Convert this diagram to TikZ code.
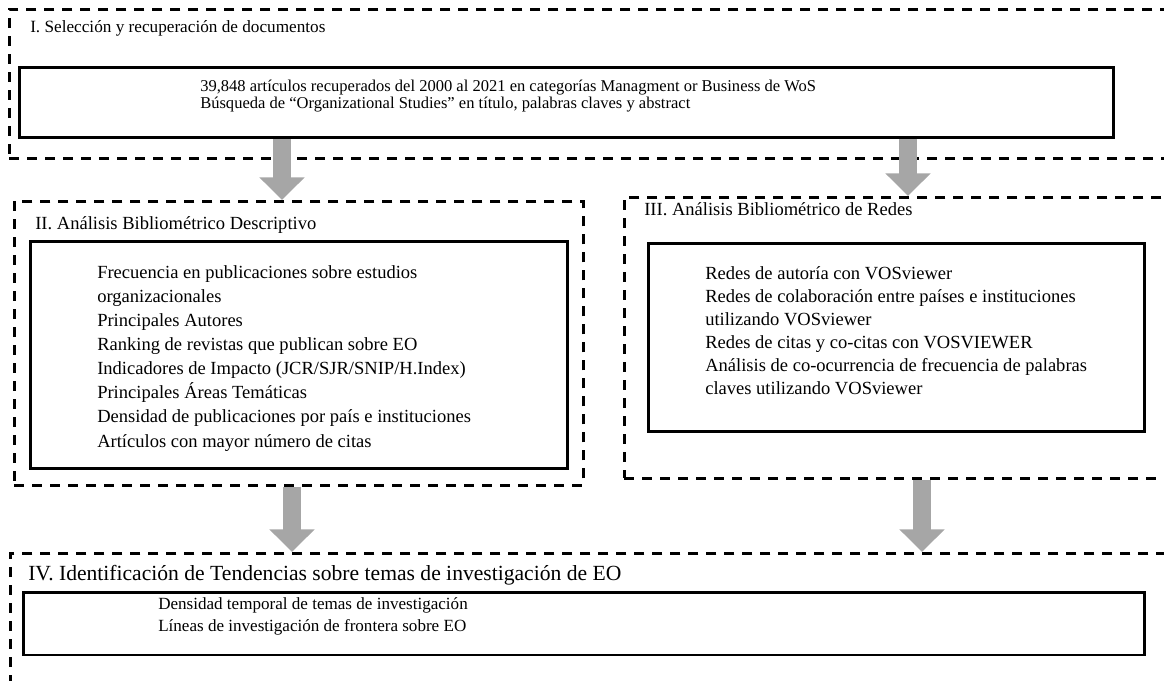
\documentclass[tikz,border=0pt]{standalone}
\usepackage{fontspec}
\setmainfont{Liberation Serif}
\usetikzlibrary{arrows.meta}
\usetikzlibrary{positioning}
\definecolor{arrowgray}{HTML}{A6A6A6}

\begin{document}
\begin{tikzpicture}[
  x=0.75pt, y=-0.75pt,
  > = {Triangle[width=33pt,length=17pt]},
  phase/.style = {draw, dash pattern=on 7.5pt off 6pt, line width=1.9pt, inner sep=0pt, anchor=north west},
  inbox/.style = {draw, line width=2.1pt, inner sep=0pt, anchor=north west},
  title/.style = {anchor=base west, inner sep=0pt, font=\fontsize{13.9}{16}\selectfont},
  list/.style = {anchor=north west, inner sep=0pt, align=left},
  flow/.style = {->, arrowgray, line width=13.5pt}
  ]
  \clip (0,0) rectangle (1164,681);

  \coordinate (f1) at (282,0);
  \coordinate (f2) at (908,0);
  \coordinate (f3) at (292,0);
  \coordinate (f4) at (922,0);

  \node[phase, minimum width=879pt, minimum height=111.75pt] (grpI) at (8,8) {};
  \node[title, font=\fontsize{12.9}{15}\selectfont] (titI) at (30,33) {I. Selección y recuperación de documentos};
  \node[inbox, minimum width=820.5pt, minimum height=52.5pt] (inI) at (18,66) {};
  \node[list, font=\fontsize{12.4}{12.2}\selectfont] (txtI) at (200,80)
    {39,848 artículos recuperados del 2000 al 2021 en categorías Managment or Business de WoS\\
     Búsqueda de “Organizational Studies” en título, palabras claves y abstract};

  \node[phase, minimum width=426.75pt, minimum height=213pt] (grpII) at (13,200) {};
  \node[title] (titII) at (35,229) {II. Análisis Bibliométrico Descriptivo};
  \node[inbox, minimum width=402.75pt, minimum height=170.25pt] (inII) at (29,240) {};
  \node[list, font=\fontsize{13.9}{18.1}\selectfont] (txtII) at (97,265)
    {Frecuencia en publicaciones sobre estudios\\
     organizacionales\\
     Principales Autores\\
     Ranking de revistas que publican sobre EO\\
     Indicadores de Impacto (JCR/SJR/SNIP/H.Index)\\
     Principales Áreas Temáticas\\
     Densidad de publicaciones por país e instituciones\\
     Artículos con mayor número de citas};

  \node[phase, minimum width=420pt, minimum height=210.75pt] (grpIII) at (623,196) {};
  \node[title] (titIII) at (644,215) {III. Análisis Bibliométrico de Redes};
  \node[inbox, minimum width=372pt, minimum height=141pt] (inIII) at (647,242) {};
  \node[list, font=\fontsize{13.9}{17.3}\selectfont] (txtIII) at (705,266)
    {Redes de autoría con VOSviewer\\
     Redes de colaboración entre países e instituciones\\
     utilizando VOSviewer\\
     Redes de citas y co-citas con VOSVIEWER\\
     Análisis de co-ocurrencia de frecuencia de palabras\\
     claves utilizando VOSviewer};

  \node[phase, minimum width=878.25pt, minimum height=150pt] (grpIV) at (9,552) {};
  \node[title, font=\fontsize{16.2}{18}\selectfont] (titIV) at (28,580) {IV. Identificación de Tendencias sobre temas de investigación de EO};
  \node[inbox, minimum width=840.75pt, minimum height=47pt] (inIV) at (22,591) {};
  \node[list, font=\fontsize{12.8}{16.5}\selectfont] (txtIV) at (158,597)
    {Densidad temporal de temas de investigación\\
     Líneas de investigación de frontera sobre EO};

  \draw[flow] (inI.south -| f1) -- (grpII.north -| f1);
  \draw[flow] (inI.south -| f2) -- (grpIII.north -| f2);
  \draw[flow] (grpII.south -| f3) -- (grpIV.north -| f3);
  \draw[flow] (grpIII.south -| f4) -- (grpIV.north -| f4);

\end{tikzpicture}
\end{document}
